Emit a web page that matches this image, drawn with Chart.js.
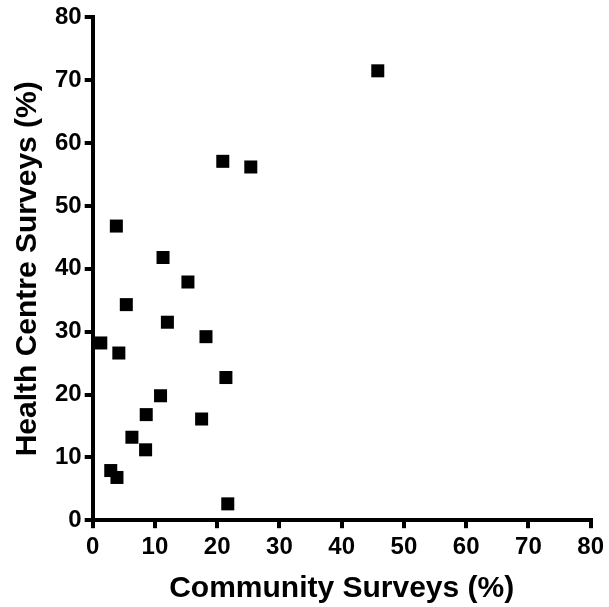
<!DOCTYPE html>
<html>
<head>
<meta charset="utf-8">
<script src="https://cdn.jsdelivr.net/npm/chart.js@4/dist/chart.umd.min.js"></script>
<style>
    html, body { margin: 0; padding: 0; background: #fff; }
    #wrap { width: 609px; height: 607px; }
</style>
</head>
<body>
<div id="wrap"><canvas id="chart" width="609" height="607"></canvas></div>
<script>
// community surveys (%) vs health centre surveys (%)
const communityX = [45.8, 20.9, 25.4, 3.8, 11.3, 15.3, 5.4, 12.0, 18.2, 1.3, 4.2, 21.4, 10.9, 8.6, 17.5, 6.3, 8.5, 2.9, 3.9, 21.7];
const healthY    = [71.5, 57.1, 56.2, 46.8, 41.8, 37.9, 34.3, 31.5, 29.2, 28.2, 26.6, 22.7, 19.8, 16.8, 16.1, 13.2, 11.2, 7.9, 6.8, 2.6];
const axisMin = 0;
const axisMax = 80;
const tickStep = 10;

const points = communityX.map((x, i) => ({ x: x, y: healthY[i] }));

const fontFamily = '"Liberation Sans", Arial, sans-serif';

function axisOptions(title, tickPad, titlePad) {
    return {
        type: 'linear',
        min: axisMin,
        max: axisMax,
        grid: {
            display: true,
            drawOnChartArea: false,
            drawTicks: true,
            tickLength: 8,
            lineWidth: 4,
            color: '#000'
        },
        border: { display: true, width: 4, color: '#000' },
        ticks: {
            stepSize: tickStep,
            padding: tickPad,
            color: '#000',
            font: { family: fontFamily, size: 24, weight: 'bold' }
        },
        title: {
            display: true,
            text: title,
            color: '#000',
            padding: titlePad,
            font: { family: fontFamily, size: 30, weight: 'bold' }
        }
    };
}

new Chart(document.getElementById('chart'), {
    type: 'scatter',
    data: {
        datasets: [{
            data: points,
            pointStyle: 'rect',
            pointRadius: 9.2,
            pointHoverRadius: 9.2,
            backgroundColor: '#000',
            borderColor: '#000',
            borderWidth: 0
        }]
    },
    options: {
        responsive: false,
        animation: false,
        clip: false,
        layout: { padding: { top: 13, right: 9, bottom: 0, left: 8 } },
        plugins: {
            legend: { display: false },
            tooltip: { enabled: false }
        },
        scales: {
            x: axisOptions('Community Surveys (%)', 5, { top: 4, bottom: 0 }),
            y: axisOptions('Health Centre Surveys (%)', 3, { top: 2, bottom: 6 })
        }
    }
});
</script>
</body>
</html>
